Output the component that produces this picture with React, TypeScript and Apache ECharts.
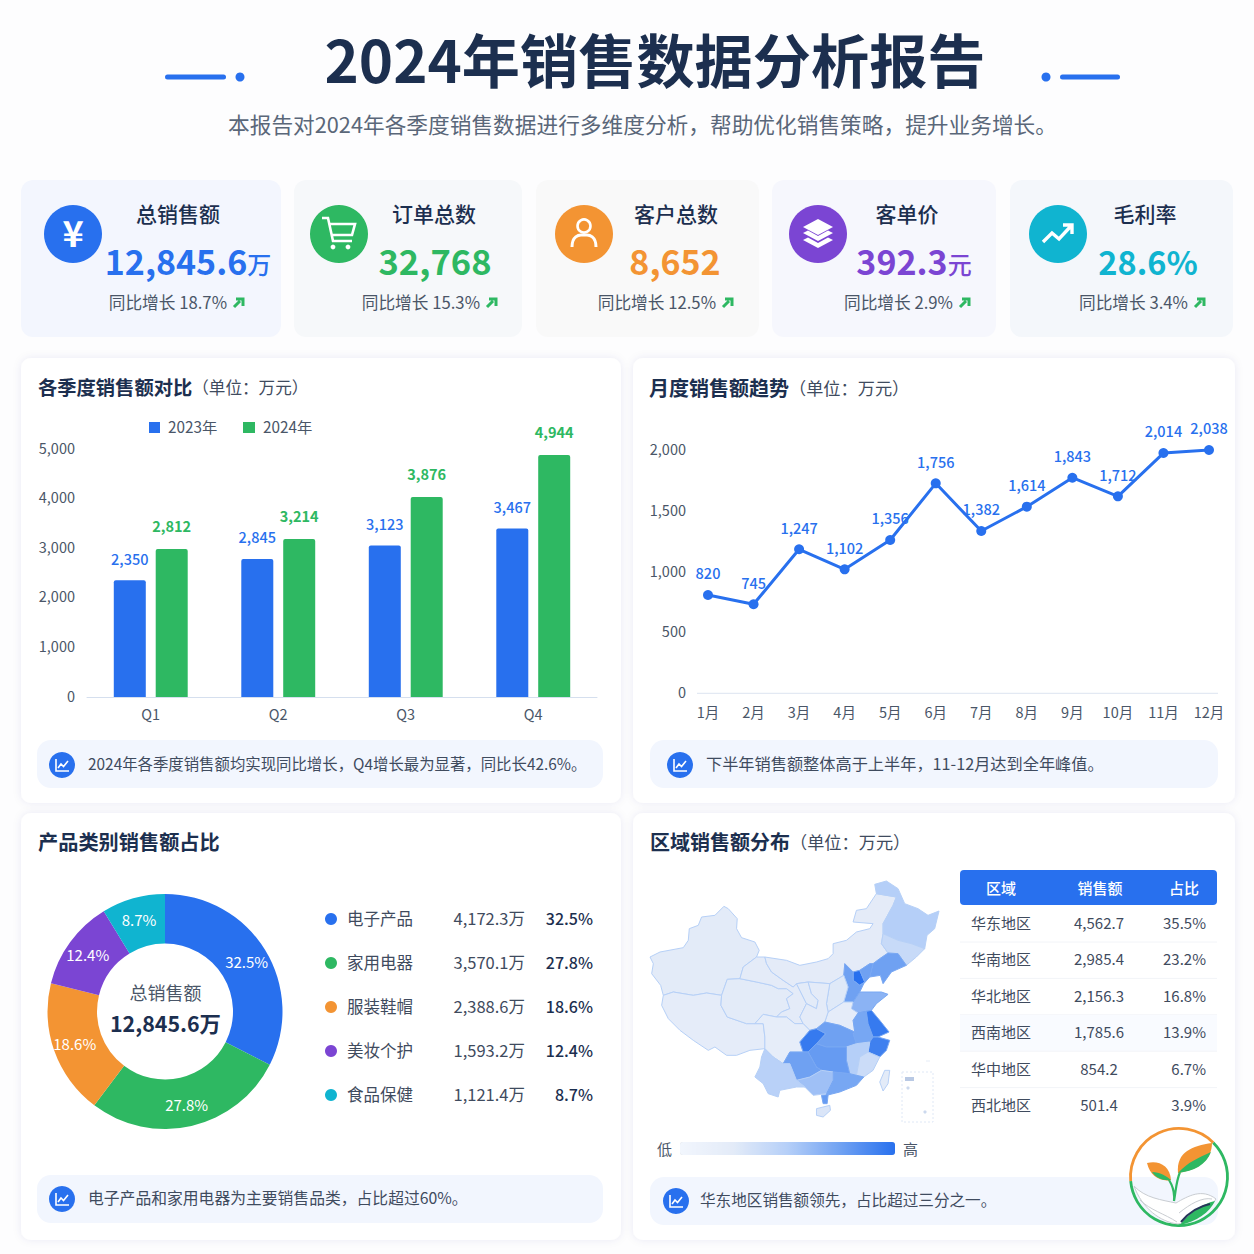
import React, { useEffect, useRef } from "react";
import * as echarts from "echarts";

const FONT = '"Noto Sans CJK SC", "Noto Sans", sans-serif';
const BLUE = "#2870EE";
const GREEN = "#2EB862";
const ORANGE = "#F39433";
const PURPLE = "#7B45D3";
const CYAN = "#10B4D0";
const NAVY = "#1C2F4F";
const SLATE = "#4A5668";

const quarters = ["Q1", "Q2", "Q3", "Q4"];
const heights2023 = [2353, 2782, 3052, 3395];
const heights2024 = [2984, 3185, 4032, 4879];
const printed2023 = ["2,350", "2,845", "3,123", "3,467"];
const printed2024 = ["2,812", "3,214", "3,876", "4,944"];
const barTicks = [0, 1000, 2000, 3000, 4000, 5000];

const months = ["1月", "2月", "3月", "4月", "5月", "6月", "7月", "8月", "9月", "10月", "11月", "12月"];
const monthlyHeights = [808, 732, 1184, 1019, 1260, 1726, 1334, 1534, 1772, 1619, 1975, 2000];
const monthlyPrinted = ["820", "745", "1,247", "1,102", "1,356", "1,756", "1,382", "1,614", "1,843", "1,712", "2,014", "2,038"];

const categoryNames = ["电子产品", "家用电器", "服装鞋帽", "美妆个护", "食品保健"];
const categoryValues = [4172.3, 3570.1, 2388.6, 1593.2, 1121.4];
const categoryShares = ["32.5%", "27.8%", "18.6%", "12.4%", "8.7%"];
const categoryColors = [BLUE, GREEN, ORANGE, PURPLE, CYAN];

const regionNames = ["华东地区", "华南地区", "华北地区", "西南地区", "华中地区", "西北地区"];
const regionSales = ["4,562.7", "2,985.4", "2,156.3", "1,785.6", "854.2", "501.4"];
const regionShares = ["35.5%", "23.2%", "16.8%", "13.9%", "6.7%", "3.9%"];

const kpiTitles = ["总销售额", "订单总数", "客户总数", "客单价", "毛利率"];
const kpiValues = ["12,845.6", "32,768", "8,652", "392.3", "28.6%"];
const kpiUnits = ["万", "", "", "元", ""];
const kpiGrowth = ["18.7%", "15.3%", "12.5%", "2.9%", "3.4%"];
const kpiColors = [BLUE, GREEN, ORANGE, PURPLE, CYAN];
const kpiValueSizes = [34, 34.5, 34, 34, 32.5];

const notes = [
  "2024年各季度销售额均实现同比增长，Q4增长最为显著，同比长42.6%。",
  "下半年销售额整体高于上半年，11-12月达到全年峰值。",
  "电子产品和家用电器为主要销售品类，占比超过60%。",
  "华东地区销售额领先，占比超过三分之一。",
];
const noteSizes = [15.4, 16.2, 15.8, 15.6];

// Province outlines (simplified), drawn from the picture's own outline
const provinceShapes: Record<string, number[][]> = {
  新疆: [[30,290],[60,275],[130,262],[145,240],[148,205],[175,195],[185,170],[225,165],[252,138],[265,145],[292,175],[290,205],[305,232],[345,245],[358,270],[350,290],[310,320],[300,355],[262,357],[245,405],[200,398],[160,405],[100,395],[70,405],[62,375],[35,340],[40,310]],
  西藏: [[70,405],[100,395],[160,405],[200,398],[245,405],[243,435],[262,470],[320,490],[345,490],[370,490],[375,530],[375,565],[330,570],[290,585],[260,585],[225,560],[205,570],[160,540],[120,510],[85,475],[65,435]],
  青海: [[262,357],[300,355],[350,365],[395,375],[415,385],[440,385],[460,400],[440,415],[450,445],[425,455],[410,470],[370,462],[345,490],[320,490],[262,470],[243,435],[245,405]],
  甘肃: [[310,320],[350,290],[375,290],[380,310],[395,335],[430,360],[460,380],[470,370],[490,410],[500,430],[480,470],[490,490],[465,490],[440,470],[410,470],[425,455],[450,445],[440,415],[460,400],[440,385],[415,385],[395,375],[350,365],[300,355]],
  内蒙古: [[640,185],[650,150],[680,145],[710,100],[770,110],[760,135],[730,190],[730,220],[725,250],[745,278],[720,295],[700,310],[690,310],[660,330],[640,335],[615,310],[612,345],[570,370],[505,365],[470,370],[460,380],[430,360],[395,335],[380,310],[375,290],[440,300],[480,315],[530,305],[565,295],[580,280],[580,250],[620,240],[650,215],[690,205],[700,190]],
  黑龙江: [[705,72],[740,62],[775,85],[795,130],[835,145],[865,165],[898,152],[885,205],[862,225],[855,265],[815,250],[775,240],[730,220],[730,190],[760,135],[770,110],[710,100]],
  吉林: [[730,220],[775,240],[815,250],[855,265],[830,290],[800,315],[775,280],[745,278],[725,250]],
  辽宁: [[745,278],[775,280],[800,315],[755,335],[730,370],[722,345],[690,350],[700,310],[720,295]],
  京津: [[640,335],[660,330],[675,365],[660,375],[640,360]],
  河北: [[615,310],[640,335],[640,360],[660,375],[675,365],[660,330],[690,310],[700,310],[690,350],[672,370],[660,395],[640,425],[612,425],[625,380],[612,345]],
  山东: [[660,395],[700,395],[725,395],[745,402],[710,430],[695,450],[655,458],[635,445],[640,425]],
  山西: [[570,370],[612,345],[625,380],[612,425],[565,455],[560,430]],
  河南: [[565,455],[612,425],[640,425],[635,445],[655,458],[640,480],[645,515],[600,495],[555,485]],
  宁夏: [[470,370],[505,365],[515,400],[535,420],[530,445],[500,430],[490,410]],
  陕西: [[505,365],[570,370],[560,430],[565,455],[555,485],[530,505],[510,510],[490,490],[480,470],[500,430],[530,445],[535,420],[515,400]],
  四川: [[345,490],[370,462],[410,470],[440,470],[465,490],[490,490],[510,510],[480,545],[490,575],[450,575],[430,610],[400,590],[375,565],[375,530],[370,490]],
  重庆: [[510,510],[530,505],[558,520],[530,550],[505,575],[490,575],[480,545]],
  湖北: [[555,485],[600,495],[645,515],[640,520],[650,550],[620,560],[560,560],[530,550],[558,520],[530,505]],
  安徽: [[655,458],[680,455],[685,490],[700,530],[690,545],[650,550],[640,520],[645,515],[640,480]],
  江苏: [[655,458],[695,450],[720,480],[748,515],[715,530],[700,530],[685,490],[680,455]],
  浙江: [[700,530],[715,530],[750,540],[740,570],[720,590],[685,575],[690,545]],
  江西: [[620,560],[650,550],[690,545],[685,575],[660,590],[650,645],[630,640],[620,600]],
  福建: [[660,590],[685,575],[720,590],[700,630],[672,650],[650,645]],
  湖南: [[530,550],[560,560],[620,560],[620,600],[630,640],[580,635],[545,630],[530,620],[505,575]],
  贵州: [[450,575],[490,575],[505,575],[530,620],[545,630],[510,650],[470,660],[450,610],[430,610]],
  广西: [[470,660],[510,650],[545,630],[580,635],[580,660],[560,700],[520,705],[495,680]],
  广东: [[580,635],[630,640],[650,645],[672,650],[650,675],[600,695],[560,705],[560,700],[580,660]],
  雷州: [[545,705],[565,703],[562,730],[550,730]],
  海南: [[530,745],[570,735],[572,750],[550,770],[530,765]],
  云南: [[375,565],[400,590],[430,610],[450,610],[470,660],[495,680],[470,680],[420,690],[415,710],[385,700],[370,670],[345,650],[360,620],[365,590]],
  台湾: [[735,630],[750,630],[745,670],[730,692],[720,665]],
};
const provinceLevels: Record<string, number> = {
  新疆: 25, 西藏: 22, 青海: 25, 甘肃: 24, 内蒙古: 24, 黑龙江: 50, 吉林: 40, 辽宁: 75, 京津: 100, 河北: 75,
  山东: 65, 山西: 27, 河南: 22, 宁夏: 25, 陕西: 24, 四川: 20, 重庆: 95, 湖北: 75, 安徽: 72, 江苏: 95, 浙江: 92,
  江西: 50, 福建: 38, 湖南: 78, 贵州: 75, 广西: 58, 广东: 72, 雷州: 78, 海南: 30, 云南: 48, 台湾: 25,
};
const mapDataOrder = Object.keys(provinceShapes);

const kpiCards = [[21,180,260],[294,180,228],[536,180,223],[772,180,224],[1010,180,223]];
const kpiFills = ["#F3F6FE", "#F6F8FA", "#F9F9F9", "#F6F7FD", "#F4F7FB"];
const kpiCircleX = [73, 339, 584, 818, 1058];
const kpiTitleX = [178, 434, 676, 907, 1145];
const kpiValueX = [188, 435, 675, 914, 1148];
const kpiGrowthX = [227, 480, 716, 953, 1188];
const panels = [[21,358,600,445],[633,358,602,445],[21,813,600,427],[633,813,602,427]];
const noteBoxes = [[37,740,566,48,62,765,88],[650,740,568,48,680,765,706],[37,1175,566,48,62,1199,88],[650,1177,568,48,676,1201,700]];

const ICONS: Record<string, string> = {
  kCart: "M-17 -15 L-11 -15 L-6 8 L13 8 M-9 -9 L16 -9 L13 2 L-7 2",
  kUser: "M-12 14 C-12 3 -5 2 -3 2 M12 14 C12 3 5 2 3 2 L-3 2",
  kLayerTop: "M0 -15 L15 -7 L0 1 L-15 -7 Z",
  kLayerMid: "M-15 -1 L-10 -3.5 L0 2 L10 -3.5 L15 -1 L0 7 Z",
  kLayerLow: "M-15 6 L-10 3.5 L0 9 L10 3.5 L15 6 L0 14 Z",
  kTrend: "M-15 8 L-6 -1 L1 5 L13 -8 M5 -9 L14 -9 L14 0",
  kArrow: "M-5 4 L1 -2 M-3 -4 L4 -4 L4 3",
  kNote: "M-6 -6 L-6 6 L7 6 M-4 3 L-1 -1 L1.5 1.5 L6 -4",
  leafBig: "M1178 1173 C1176 1152 1192 1146 1212 1143 C1212 1160 1198 1170 1178 1173 Z",
  leafBigLow: "M1178 1173 C1188 1162 1198 1158 1211 1152 C1206 1165 1194 1171 1178 1173 Z",
  leafSmall: "M1147 1163 C1158 1160 1170 1165 1171 1180 C1160 1182 1150 1176 1147 1163 Z",
  leafSmallLow: "M1152 1172 C1160 1172 1166 1176 1171 1180 C1163 1181 1156 1178 1152 1172 Z",
  stem: "M1174 1201 C1175 1190 1172 1180 1160 1170 M1174 1201 C1176 1190 1176 1182 1180 1172",
  book: "M1134 1186 C1145 1198 1162 1200 1176 1203 C1188 1196 1202 1188 1216 1199 C1208 1212 1192 1222 1178 1224 C1160 1222 1142 1208 1134 1186 Z",
  bookLine: "M1140 1200 C1150 1210 1165 1214 1177 1222 M1179 1213 C1190 1204 1202 1197 1212 1199",
  bookGreen: "M1180 1225 C1190 1212 1202 1204 1215 1201 C1210 1212 1196 1222 1180 1225 Z",
  bookNavy: "M1181 1222 C1190 1211 1200 1206 1210 1204",
};
let registered = false;
function registerIcons() {
  if (registered) return;
  Object.keys(ICONS).forEach((k) => echarts.graphic.registerShape(k, echarts.graphic.extendPath(ICONS[k], {})));
  registered = true;
}

const fmt = (n: number) => n.toLocaleString("en-US");
const text = (x: number, y: number, t: string, fontSize: number, fill: string, extra: any = {}, align = "left") => ({
  type: "text", x, y: y - 2,
  style: { text: t, fontSize, fill, fontFamily: FONT, textAlign: align, textVerticalAlign: "middle", ...extra },
});
const arc = (cx: number, cy: number, r: number, a0: number, a1: number, stroke: string, lw: number) => ({
  type: "arc", z: 10,
  shape: { cx, cy, r, startAngle: (a0 * Math.PI) / 180, endAngle: (a1 * Math.PI) / 180, clockwise: true },
  style: { stroke, fill: "none", lineWidth: lw },
});

function buildGraphics() {
  const els: any[] = [];
  els.push({ type: "rect", shape: { x: 0, y: 0, width: 1254, height: 1254 }, style: { fill: "#FDFDFE" } });
  // header
  els.push(text(655, 59, "2024年销售数据分析报告", 58.2, NAVY, { fontWeight: 700 }, "center"));
  els.push(text(638, 125, "本报告对2024年各季度销售数据进行多维度分析，帮助优化销售策略，提升业务增长。", 21.7, "#5A6779", { x: 0 }, "center"));
  els[els.length - 1].x = 642.5;
  els.push({ type: "rect", shape: { x: 165, y: 74.5, width: 61, height: 5, r: 2.5 }, style: { fill: BLUE } });
  els.push({ type: "circle", shape: { cx: 240, cy: 77, r: 4.5 }, style: { fill: BLUE } });
  els.push({ type: "circle", shape: { cx: 1046, cy: 77, r: 4.5 }, style: { fill: BLUE } });
  els.push({ type: "rect", shape: { x: 1060, y: 74.5, width: 60, height: 5, r: 2.5 }, style: { fill: BLUE } });

  // KPI cards
  kpiCards.forEach((c, i) => {
    els.push({ type: "rect", shape: { x: c[0], y: c[1], width: c[2], height: 157, r: 12 }, style: { fill: kpiFills[i] } });
    const cx = kpiCircleX[i];
    els.push({ type: "circle", shape: { cx, cy: 234, r: 29 }, style: { fill: kpiColors[i] } });
    els.push(text(kpiTitleX[i], 215, kpiTitles[i], 21, NAVY, { fontWeight: 500 }, "center"));
    els.push({
      type: "text", x: kpiValueX[i], y: 260,
      style: {
        text: `{v|${kpiValues[i]}}` + (kpiUnits[i] ? `{u|${kpiUnits[i]}}` : ""),
        rich: {
          v: { fontSize: kpiValueSizes[i], fontWeight: 700, fontFamily: FONT, color: kpiColors[i], fill: kpiColors[i] },
          u: { fontSize: 24, fontWeight: 500, fontFamily: FONT, color: kpiColors[i], fill: kpiColors[i], padding: [6, 0, 0, 0] },
        },
        textAlign: "center", textVerticalAlign: "middle", fontFamily: FONT,
      },
    });
    els.push(text(kpiGrowthX[i], 304, `同比增长 ${kpiGrowth[i]}`, 16.7, SLATE, {}, "right"));
    els.push({ type: "kArrow", x: kpiGrowthX[i] + 12, y: 303, style: { stroke: GREEN, fill: "none", lineWidth: 3 } });
  });
  // KPI icons
  els.push(text(73, 233, "¥", 36, "#fff", { fontWeight: 700 }, "center"));
  els.push({ type: "kCart", x: 339, y: 233, style: { stroke: "#fff", fill: "none", lineWidth: 2.6 } });
  els.push({ type: "circle", shape: { cx: 333, cy: 247, r: 2.4 }, style: { fill: "#fff" } });
  els.push({ type: "circle", shape: { cx: 348, cy: 247, r: 2.4 }, style: { fill: "#fff" } });
  els.push({ type: "circle", shape: { cx: 584, cy: 226, r: 6.5 }, style: { stroke: "#fff", fill: "none", lineWidth: 2.6 } });
  els.push({ type: "kUser", x: 584, y: 233, style: { stroke: "#fff", fill: "none", lineWidth: 3 } });
  ["kLayerTop", "kLayerMid", "kLayerLow"].forEach((t) => els.push({ type: t, x: 818, y: 234, style: { fill: "#fff" } }));
  els.push({ type: "kTrend", x: 1058, y: 234, style: { stroke: "#fff", fill: "none", lineWidth: 3.4 } });

  // Panels
  panels.forEach((p) => {
    els.push({
      type: "rect", shape: { x: p[0], y: p[1], width: p[2], height: p[3], r: 10 },
      style: { fill: "#fff", shadowBlur: 8, shadowColor: "rgba(40,70,130,0.08)" },
    });
  });
  const panelTitle = (x: number, y: number, t: string, s: string, size: number, subSize: number) => ({
    type: "text", x, y: y - 2,
    style: {
      text: `{t|${t}}` + (s ? `{s|${s}}` : ""),
      rich: {
        t: { fontSize: size, fontWeight: 700, fontFamily: FONT, color: NAVY, fill: NAVY },
        s: { fontSize: subSize, fontFamily: FONT, color: "#3F4B5E", fill: "#3F4B5E" },
      },
      textVerticalAlign: "middle", fontFamily: FONT,
    },
  });
  els.push(panelTitle(38, 389, "各季度销售额对比", "（单位：万元）", 19.3, 16.6));
  els.push(panelTitle(649, 389, "月度销售额趋势", "（单位：万元）", 20, 17.2));
  els.push(panelTitle(38, 843, "产品类别销售额占比", "", 20.2, 16));
  els.push(panelTitle(650, 843, "区域销售额分布", "（单位：万元）", 20, 17.2));

  // Notes
  noteBoxes.forEach((b, i) => {
    els.push({ type: "rect", shape: { x: b[0], y: b[1], width: b[2], height: b[3], r: 14 }, style: { fill: "#F2F6FE" } });
    els.push({ type: "circle", shape: { cx: b[4], cy: b[5], r: 13 }, style: { fill: BLUE } });
    els.push({ type: "kNote", x: b[4], y: b[5], style: { stroke: "#fff", fill: "none", lineWidth: 1.6 } });
    els.push(text(b[6], b[5], notes[i], noteSizes[i], "#3F4B5E"));
  });

  // bar legend
  els.push({ type: "rect", shape: { x: 149, y: 422, width: 11, height: 11 }, style: { fill: BLUE } });
  els.push(text(168, 428, "2023年", 15.3, SLATE));
  els.push({ type: "rect", shape: { x: 243, y: 422, width: 12, height: 11 }, style: { fill: GREEN } });
  els.push(text(263, 428, "2024年", 15.3, SLATE));

  // long axis under the monthly line
  els.push({ type: "line", shape: { x1: 697, y1: 693.3, x2: 1218, y2: 693.3 }, style: { stroke: "#DCE4F0", lineWidth: 1 } });

  // donut centre and list
  els.push(text(165.5, 994, "总销售额", 18, SLATE, {}, "center"));
  els.push(text(165.5, 1024, "12,845.6万", 21.4, NAVY, { fontWeight: 700 }, "center"));
  categoryNames.forEach((n, i) => {
    const y = 919 + i * 44;
    els.push({ type: "circle", shape: { cx: 331, cy: y, r: 6 }, style: { fill: categoryColors[i] } });
    els.push(text(347, y + 1, n, 16.5, "#3F4B5E"));
    els.push(text(525, y + 1, `${fmt(categoryValues[i])}万`, 16.5, "#3F4B5E", {}, "right"));
    els.push(text(593, y + 1, categoryShares[i], 16, NAVY, { fontWeight: 500 }, "right"));
  });

  // South China Sea inset (faint)
  els.push({ type: "rect", shape: { x: 902, y: 1072, width: 31, height: 50 }, style: { stroke: "#DFE8F6", fill: "none", lineWidth: 1, lineDash: [2, 2] } });
  els.push({ type: "rect", shape: { x: 905, y: 1077, width: 9, height: 4 }, style: { fill: "#B9C9E4" } });
  els.push({ type: "circle", shape: { cx: 908, cy: 1088, r: 1.6 }, style: { fill: "#CCD9EE" } });
  els.push({ type: "circle", shape: { cx: 925, cy: 1112, r: 1.6 }, style: { fill: "#CCD9EE" } });
  els.push({ type: "line", shape: { x1: 926, y1: 1061, x2: 930, y2: 1061 }, style: { stroke: "#E5ECF7", lineWidth: 1 } });

  // table
  els.push({ type: "rect", shape: { x: 960, y: 870, width: 257, height: 35, r: 4 }, style: { fill: BLUE } });
  els.push(text(1001, 889, "区域", 15, "#fff", { fontWeight: 500 }, "center"));
  els.push(text(1100, 889, "销售额", 15, "#fff", { fontWeight: 500 }, "center"));
  els.push(text(1184, 889, "占比", 15, "#fff", { fontWeight: 500 }, "center"));
  regionNames.forEach((n, i) => {
    const y = 924 + i * 36.4;
    if (i === 3) els.push({ type: "rect", shape: { x: 960, y: y - 18, width: 257, height: 36 }, style: { fill: "#F9FBFF" } });
    els.push(text(971, y + 0.5, n, 15, "#3F4B5E"));
    els.push(text(1099, y + 0.5, regionSales[i], 15, "#3F4B5E", {}, "center"));
    els.push(text(1206, y + 0.5, regionShares[i], 15, "#3F4B5E", {}, "right"));
    if (i < 5) els.push({ type: "line", shape: { x1: 960, y1: y + 18, x2: 1217, y2: y + 18 }, style: { stroke: "#F2F4F8", lineWidth: 1 } });
  });

  // logo
  els.push(arc(1179, 1177, 48.5, 175, 315, ORANGE, 2.8));
  els.push({ ...arc(1179, 1177, 48.5, 315, 535, GREEN, 2.8) });
  const z = 10;
  els.push({ type: "book", z, style: { fill: "#FFFFFF", stroke: "#C9CDD2", lineWidth: 1 } });
  els.push({ type: "bookLine", z, style: { stroke: "#C9CDD2", fill: "none", lineWidth: 1 } });
  els.push({ type: "bookGreen", z, style: { fill: GREEN } });
  els.push({ type: "bookNavy", z, style: { stroke: "#26365A", fill: "none", lineWidth: 2 } });
  els.push({ type: "stem", z, style: { stroke: GREEN, fill: "none", lineWidth: 2.2 } });
  els.push({ type: "leafBig", z, style: { fill: ORANGE } });
  els.push({ type: "leafBigLow", z, style: { fill: GREEN } });
  els.push({ type: "leafSmall", z, style: { fill: ORANGE } });
  els.push({ type: "leafSmallLow", z, style: { fill: GREEN } });
  return els;
}

function buildOption(): any {
  const axisText = { color: SLATE, fontSize: 14.5, fontFamily: FONT };
  const labelBase = { fontFamily: FONT, fontSize: 14.5, fontWeight: 500 };
  const tickRich = (pad: number) => ({ a: { ...axisText, padding: [0, 0, pad, 0] } });
  return {
    animation: false,
    graphic: { elements: buildGraphics() },
    grid: [
      { left: 87, top: 449, width: 510, height: 248 },
      { left: 708, top: 450, width: 501, height: 243.3 },
    ],
    xAxis: [
      {
        gridIndex: 0, type: "category", data: quarters,
        axisLine: { lineStyle: { color: "#D5DFEE" } }, axisTick: { show: false },
        axisLabel: { ...axisText, margin: 9 },
      },
      {
        gridIndex: 1, type: "category", data: months, boundaryGap: false,
        axisLine: { show: false }, axisTick: { show: false },
        axisLabel: { ...axisText, margin: 11 },
      },
    ],
    yAxis: [
      {
        gridIndex: 0, type: "value", min: barTicks[0], max: barTicks[barTicks.length - 1], interval: 1000,
        axisLine: { show: false }, axisTick: { show: false }, splitLine: { show: false },
        axisLabel: { ...axisText, margin: 12, rich: tickRich(4), formatter: (v: number) => `{a|${fmt(v)}}` },
      },
      {
        gridIndex: 1, type: "value", min: 0, max: 2000, interval: 500,
        axisLine: { show: false }, axisTick: { show: false }, splitLine: { show: false },
        axisLabel: { ...axisText, margin: 22, rich: tickRich(3), formatter: (v: number) => `{a|${fmt(v)}}` },
      },
    ],
    visualMap: {
      type: "continuous", seriesIndex: 3, min: 0, max: 100, orient: "horizontal",
      left: 642, top: 1126, itemWidth: 13, itemHeight: 215, calculable: false, realtime: false,
      text: ["高", "低"], textGap: 8,
      textStyle: { color: SLATE, fontSize: 15, fontFamily: FONT },
      inRange: { color: ["#F2F6FD", "#E3EBF8", "#B5CFF8", "#6FA1F2", BLUE] },
    },
    series: [
      {
        type: "bar", name: "2023年", xAxisIndex: 0, yAxisIndex: 0, data: heights2023,
        barWidth: 32, barGap: "31%", itemStyle: { color: BLUE, borderRadius: [2, 2, 0, 0] },
        label: { show: true, position: "top", distance: 15, color: BLUE, ...labelBase, formatter: (p: any) => printed2023[p.dataIndex] },
      },
      {
        type: "bar", name: "2024年", xAxisIndex: 0, yAxisIndex: 0, data: heights2024,
        barWidth: 32, barGap: "31%", itemStyle: { color: GREEN, borderRadius: [2, 2, 0, 0] },
        label: { show: true, position: "top", distance: 16, color: GREEN, ...labelBase, fontWeight: 700, formatter: (p: any) => printed2024[p.dataIndex] },
      },
      {
        type: "line", xAxisIndex: 1, yAxisIndex: 1, data: monthlyHeights,
        symbol: "circle", symbolSize: 10, lineStyle: { color: BLUE, width: 3 }, itemStyle: { color: BLUE },
        label: { show: true, position: "top", distance: 10, color: BLUE, ...labelBase, formatter: (p: any) => monthlyPrinted[p.dataIndex] },
      },
      {
        type: "map", map: "cn-sketch", aspectScale: 1, roam: false, silent: true,
        left: 650, top: 881, width: 289, height: 236,
        label: { show: false }, emphasis: { disabled: true }, select: { disabled: true },
        itemStyle: { borderColor: "#B6D0F7", borderWidth: 1 },
        data: mapDataOrder.map((name) => ({
          name,
          value: provinceLevels[name],
          itemStyle: { borderColor: provinceLevels[name] >= 60 ? "#79A8F3" : "#B6D0F7" },
        })),
      },
      {
        type: "pie", center: [165, 1011.5], radius: [68, 117.5], startAngle: 90, clockwise: true, silent: true,
        data: categoryNames.map((name, i) => ({ name, value: categoryValues[i], itemStyle: { color: categoryColors[i] } })),
        label: {
          show: true, position: "inside", color: "#fff", fontFamily: FONT, fontSize: 15,
          formatter: (p: any) => categoryShares[p.dataIndex],
        },
        labelLine: { show: false },
      },
    ],
  };
}

function buildGeo() {
  return {
    type: "FeatureCollection",
    features: mapDataOrder.map((name) => {
      const pts = provinceShapes[name].map((p) => [p[0], -p[1]]);
      return {
        type: "Feature",
        properties: { name },
        geometry: { type: "Polygon", coordinates: [[...pts, pts[0]]] },
      };
    }),
  };
}

export default function App() {
  const ref = useRef<HTMLDivElement>(null);
  useEffect(() => {
    document.body.style.margin = "0";
    registerIcons();
    echarts.registerMap("cn-sketch", buildGeo() as any);
    const chart = echarts.init(ref.current!, undefined, { renderer: "svg" });
    chart.setOption(buildOption());
    return () => chart.dispose();
  }, []);
  return <div ref={ref} style={{ width: 1254, height: 1254 }} />;
}
